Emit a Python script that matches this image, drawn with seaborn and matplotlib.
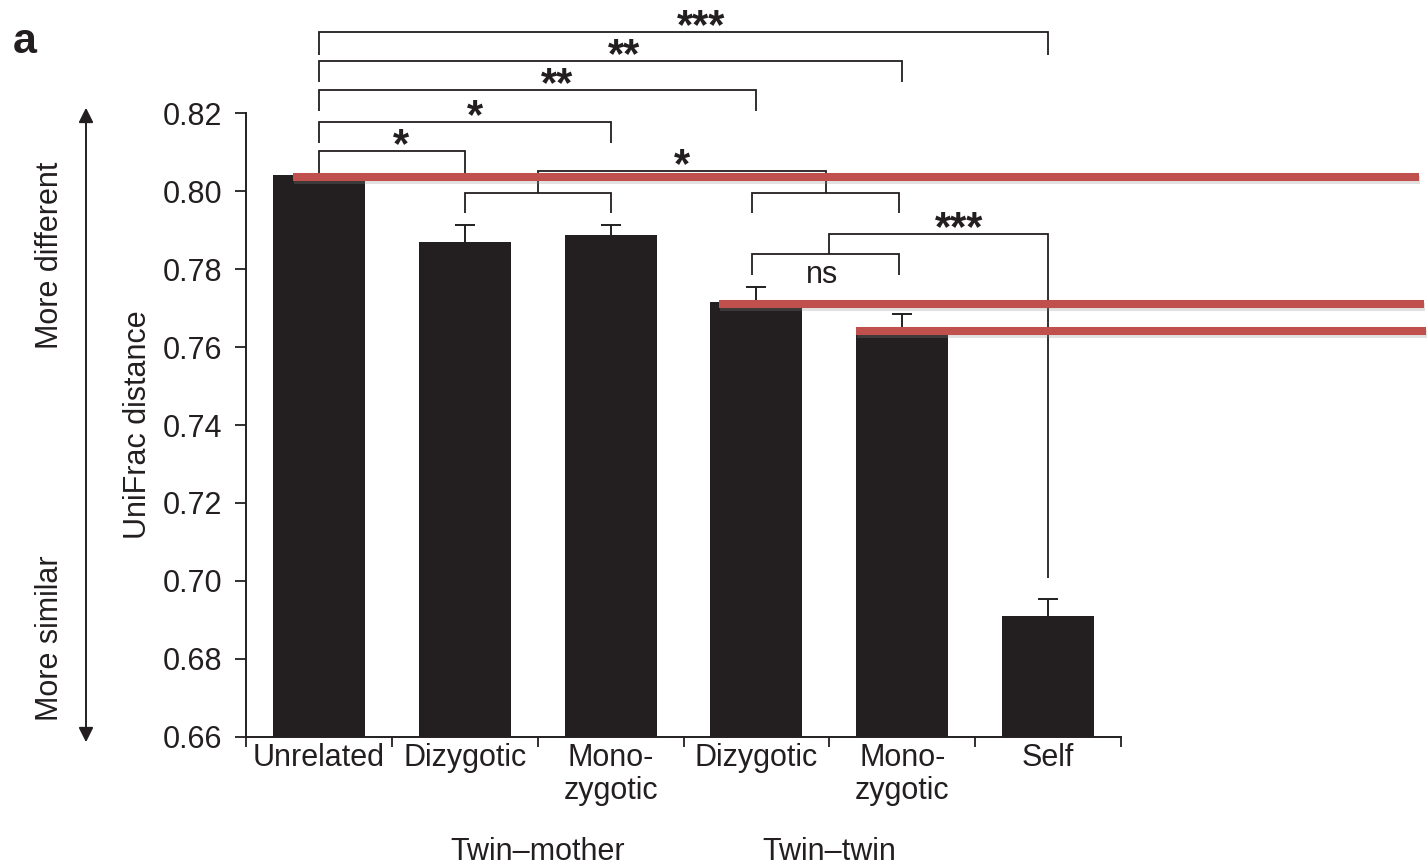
import numpy as np
import pandas as pd
import matplotlib
matplotlib.use("Agg")
import matplotlib.pyplot as plt
import matplotlib.patheffects as pe
from matplotlib.patches import FancyArrowPatch
import seaborn as sns

# ---- data -------------------------------------------------------------
categories = ["Unrelated", "Dizygotic", "Mono-\nzygotic", "Dizygotic", "Mono-\nzygotic", "Self"]
group_keys = ["unrel", "tm_dz", "tm_mz", "tt_dz", "tt_mz", "self"]
unifrac = [0.8041, 0.7869, 0.7886, 0.7715, 0.7646, 0.6910]
sem = [0.0, 0.0044, 0.0028, 0.0038, 0.0038, 0.0045]
group_names = ["Twin–mother", "Twin–twin"]
yticks = [0.66, 0.68, 0.70, 0.72, 0.74, 0.76, 0.78, 0.80, 0.82]

INK = "#231F20"
RED = "#C0504D"

sns.set_style("white")
plt.rcParams["font.family"] = ["Liberation Sans", "DejaVu Sans"]
plt.rcParams["text.color"] = INK
plt.rcParams["axes.labelcolor"] = INK
plt.rcParams["xtick.color"] = INK
plt.rcParams["ytick.color"] = INK

fig = plt.figure(figsize=(14.28, 8.64), dpi=100)
ax = fig.add_axes([0.1723, 0.147, 0.6127, 0.7222])

df = pd.DataFrame({"key": group_keys, "unifrac": unifrac})
sns.barplot(data=df, x="key", y="unifrac", order=group_keys, color=INK,
            saturation=1, width=0.63, errorbar=None, ax=ax, linewidth=0)

# one-sided (upper) error bars
x = np.arange(len(unifrac))
has_err = np.array(sem) > 0
err = ax.errorbar(x[has_err], np.array(unifrac)[has_err],
                  yerr=[np.zeros(has_err.sum()), np.array(sem)[has_err]], fmt="none",
                  ecolor=INK, elinewidth=1.4, capsize=7, capthick=1.4, zorder=3)
err[1][0].remove()

ax.set_ylim(0.66, 0.82)
ax.set_xlim(-0.5, 5.5)
ax.set_yticks(yticks)
ax.set_yticklabels([f"{t:.2f}" for t in yticks], fontsize=22)
ax.tick_params(axis="y", direction="out", length=8, width=1.3, pad=9, left=True)

# category labels centred under bars, tick marks between categories
ax.set_xticks(x)
ax.set_xticklabels(categories, fontsize=22, linespacing=1.15)
ax.tick_params(axis="x", length=0, pad=4)
ax.set_xticks(np.arange(-0.5, 6.0, 1.0), minor=True)
ax.tick_params(axis="x", which="minor", direction="out", length=7, width=1.3, bottom=True)

ax.set_xlabel("")
ax.set_ylabel("UniFrac distance", fontsize=22, labelpad=7)
for side in ("top", "right"):
    ax.spines[side].set_visible(False)
for side in ("left", "bottom"):
    ax.spines[side].set_color(INK)
    ax.spines[side].set_linewidth(1.4)

# group captions under the tick labels
for name, xc in zip(group_names, [1.5, 3.5]):
    ax.annotate(name, xy=(xc, 0), xycoords=("data", "figure fraction"),
                xytext=(0, 3), textcoords="offset points",
                ha="center", va="baseline", fontsize=22, annotation_clip=False)

# ---- significance brackets -------------------------------------------
def bracket(x1, x2, top, end1, end2):
    ax.plot([x1, x1, x2, x2], [end1, top, top, end2], color=INK, lw=1.3,
            clip_on=False, solid_joinstyle="miter", solid_capstyle="butt", zorder=4)

def mark(text, xc, y, dy=-4.5, size=30):
    ax.annotate(text, xy=(xc, y), xytext=(0, dy), textcoords="offset points",
                ha="center", va="baseline", fontsize=size, fontweight="bold",
                color=INK, annotation_clip=False)

# unrelated vs. every other class
outer = [
    (5, 0.8408, 0.8349, "***", 2.62),
    (4, 0.8333, 0.8279, "**", 2.09),
    (3, 0.8259, 0.8205, "**", 1.63),
    (2, 0.8177, 0.8123, "*", 1.07),
    (1, 0.8103, 0.8045, "*", 0.56),
]
for j, top, end, lab, lx in outer:
    bracket(0, j, top, end if j != 1 else 0.8041, end)
    mark(lab, lx, top)

# twin–mother vs. twin–twin
bracket(1, 2, 0.7995, 0.7944, 0.7944)
bracket(2.97, 3.98, 0.7995, 0.7944, 0.7944)
bracket(1.5, 3.475, 0.8051, 0.7995, 0.7995)
mark("*", 2.49, 0.8051)

# dizygotic vs. monozygotic twins, and twins vs. self
bracket(2.97, 3.98, 0.7838, 0.7785, 0.7785)
ax.annotate("ns", xy=(3.45, 0.7764), ha="center", va="baseline", fontsize=22,
            annotation_clip=False)
bracket(3.5, 5, 0.7890, 0.7838, 0.7008)
mark("***", 4.39, 0.7890)

# ---- reference levels at selected bar heights ------------------------
ref_idx = [0, 3, 4]
ref_start = [-0.18, 2.745, 3.685]
ref_end = [7.545, 7.58, 7.59]
for i, xs, xe in zip(ref_idx, ref_start, ref_end):
    ax.plot([xs, xe], [unifrac[i] - 0.0004, unifrac[i] - 0.0004], color=RED, lw=5.8,
            solid_capstyle="butt", clip_on=False, zorder=6,
            path_effects=[pe.SimpleLineShadow(offset=(0.8, -2.2), shadow_color="#888888", alpha=0.25),
                          pe.Normal()])

# ---- left-hand direction arrow ---------------------------------------
arrow = FancyArrowPatch((86 / 1428, 1 - 745 / 864), (86 / 1428, 1 - 105 / 864),
                        transform=fig.transFigure, arrowstyle="<|-|>",
                        mutation_scale=22, lw=1.4, color=INK)
fig.patches.append(arrow)
fig.text(50 / 1428, 1 - 255 / 864, "More different", rotation=90, ha="center",
         va="center", fontsize=22)
fig.text(50 / 1428, 1 - 638 / 864, "More similar", rotation=90, ha="center",
         va="center", fontsize=22)

fig.text(13 / 1428, 1 - 53 / 864, "a", fontsize=31, fontweight="bold",
         ha="left", va="baseline")

fig.savefig("out.png", dpi=100)
